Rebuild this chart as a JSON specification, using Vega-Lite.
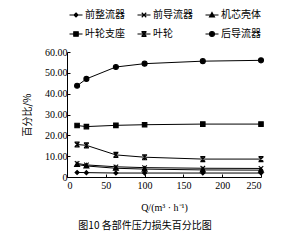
{
  "$schema": "https://vega.github.io/schema/vega-lite/v6.json",
  "width": 194,
  "height": 125,
  "autosize": {"type": "none"},
  "padding": {"left": 67, "top": 52, "right": 22, "bottom": 67},
  "background": "white",
  "title": {
    "text": "图10 各部件压力损失百分比图",
    "orient": "bottom",
    "anchor": "middle",
    "frame": "bounds",
    "font": "Noto Sans CJK SC",
    "fontSize": 10,
    "fontWeight": "normal",
    "color": "black",
    "offset": 9
  },
  "config": {
    "view": {"stroke": null},
    "axis": {
      "domainColor": "black",
      "tickColor": "black",
      "labelColor": "black",
      "titleColor": "black",
      "labelFont": "Liberation Serif",
      "labelFontSize": 10,
      "titleFont": "Liberation Serif",
      "titleFontSize": 10,
      "titleFontWeight": "normal",
      "grid": false,
      "tickSize": -3,
      "domainWidth": 1
    },
    "point": {"filled": true, "color": "black", "stroke": "black", "strokeWidth": 1.1, "size": 100, "opacity": 1},
    "legend": {
      "orient": "none",
      "legendX": 3,
      "legendY": -43,
      "columns": 3,
      "direction": "horizontal",
      "labelFont": "Noto Sans CJK SC",
      "labelFontSize": 10,
      "labelColor": "black",
      "symbolSize": 100,
      "columnPadding": 10,
      "rowPadding": 8,
      "labelOffset": 3,
      "title": null
    }
  },
  "data": {
    "values": [
      {"series": "后导流器", "q": 13, "pct": 43.8},
      {"series": "后导流器", "q": 25, "pct": 47.1},
      {"series": "后导流器", "q": 63, "pct": 52.8},
      {"series": "后导流器", "q": 100, "pct": 54.4},
      {"series": "后导流器", "q": 175, "pct": 55.6},
      {"series": "后导流器", "q": 250, "pct": 56.0},
      {"series": "叶轮支座", "q": 13, "pct": 24.7},
      {"series": "叶轮支座", "q": 25, "pct": 24.2},
      {"series": "叶轮支座", "q": 63, "pct": 24.8},
      {"series": "叶轮支座", "q": 100, "pct": 25.1},
      {"series": "叶轮支座", "q": 175, "pct": 25.4},
      {"series": "叶轮支座", "q": 250, "pct": 25.4},
      {"series": "叶轮", "q": 13, "pct": 15.6},
      {"series": "叶轮", "q": 25, "pct": 15.2},
      {"series": "叶轮", "q": 63, "pct": 10.6},
      {"series": "叶轮", "q": 100, "pct": 9.5},
      {"series": "叶轮", "q": 175, "pct": 8.6},
      {"series": "叶轮", "q": 250, "pct": 8.6},
      {"series": "前导流器", "q": 13, "pct": 6.5},
      {"series": "前导流器", "q": 25, "pct": 5.8},
      {"series": "前导流器", "q": 63, "pct": 4.9},
      {"series": "前导流器", "q": 100, "pct": 4.5},
      {"series": "前导流器", "q": 175, "pct": 4.2},
      {"series": "前导流器", "q": 250, "pct": 4.1},
      {"series": "机芯壳体", "q": 13, "pct": 6.0},
      {"series": "机芯壳体", "q": 25, "pct": 5.3},
      {"series": "机芯壳体", "q": 63, "pct": 4.2},
      {"series": "机芯壳体", "q": 100, "pct": 3.8},
      {"series": "机芯壳体", "q": 175, "pct": 3.4},
      {"series": "机芯壳体", "q": 250, "pct": 3.3},
      {"series": "前整流器", "q": 13, "pct": 2.2},
      {"series": "前整流器", "q": 25, "pct": 2.1},
      {"series": "前整流器", "q": 63, "pct": 1.9},
      {"series": "前整流器", "q": 100, "pct": 1.9},
      {"series": "前整流器", "q": 175, "pct": 1.9},
      {"series": "前整流器", "q": 250, "pct": 1.9}
    ]
  },
  "encoding": {
    "x": {
      "field": "q", "type": "quantitative",
      "scale": {"domain": [0, 250], "nice": false},
      "axis": {"values": [0, 50, 100, 150, 200, 250], "title": "Q/(m³ · h⁻¹)", "labelPadding": 6, "titlePadding": 12}
    },
    "y": {
      "field": "pct", "type": "quantitative",
      "scale": {"domain": [0, 60], "nice": false},
      "axis": {"values": [0, 10, 20, 30, 40, 50, 60], "title": "百分比/%", "titleFont": "Noto Sans CJK SC", "labelExpr": "datum.value == 0 ? '0' : format(datum.value, '.2f')", "labelPadding": 3, "titlePadding": 12}
    }
  },
  "layer": [
    {
      "mark": {"type": "line", "color": "black", "strokeWidth": 1},
      "encoding": {"detail": {"field": "series"}}
    },
    {
      "mark": {"type": "point", "opacity": 0},
      "encoding": {
        "shape": {
          "field": "series",
          "scale": {
            "domain": ["前整流器", "前导流器", "机芯壳体", "叶轮支座", "叶轮", "后导流器"],
            "range": [
              "M-1.3,0H1.3M0,-0.4L0.4,0L0,0.4L-0.4,0Z",
              "M-1.3,0H1.3M-0.45,-0.45L0.45,0.45M-0.45,0.45L0.45,-0.45",
              "M-1.3,0H1.3M0,-0.5L0.5,0.4L-0.5,0.4Z",
              "M-1.3,0H1.3M-0.45,-0.45H0.45V0.45H-0.45Z",
              "M-1.3,0H1.3M-0.5,-0.5H0.5M-0.5,0.5H0.5M-0.45,-0.45L0.45,0.45M-0.45,0.45L0.45,-0.45M0,-0.5V0.5",
              "M-1.3,0H1.3M0.5,0A0.5,0.5,0,1,1,-0.5,0A0.5,0.5,0,1,1,0.5,0Z"
            ]
          },
          "legend": {
            "symbolOpacity": 1,
            "encode": {
              "symbols": {
                "stroke": {"value": "black"},
                "strokeWidth": {"value": 1.1},
                "fill": {"value": "black"},
                "opacity": {"value": 1}
              }
            }
          }
        }
      }
    },
    {
      "transform": [{"filter": "datum.series == '前整流器'"}],
      "mark": {"type": "point", "shape": "M0,-0.4L0.4,0L0,0.4L-0.4,0Z"}
    },
    {
      "transform": [{"filter": "datum.series == '前导流器'"}],
      "mark": {"type": "point", "shape": "M-0.45,-0.45L0.45,0.45M-0.45,0.45L0.45,-0.45"}
    },
    {
      "transform": [{"filter": "datum.series == '机芯壳体'"}],
      "mark": {"type": "point", "shape": "M0,-0.5L0.5,0.4L-0.5,0.4Z"}
    },
    {
      "transform": [{"filter": "datum.series == '叶轮支座'"}],
      "mark": {"type": "point", "shape": "M-0.45,-0.45H0.45V0.45H-0.45Z"}
    },
    {
      "transform": [{"filter": "datum.series == '叶轮'"}],
      "mark": {"type": "point", "shape": "M-0.5,-0.5H0.5M-0.5,0.5H0.5M-0.45,-0.45L0.45,0.45M-0.45,0.45L0.45,-0.45M0,-0.5V0.5"}
    },
    {
      "transform": [{"filter": "datum.series == '后导流器'"}],
      "mark": {"type": "point", "shape": "M0.5,0A0.5,0.5,0,1,1,-0.5,0A0.5,0.5,0,1,1,0.5,0Z"}
    }
  ]
}
